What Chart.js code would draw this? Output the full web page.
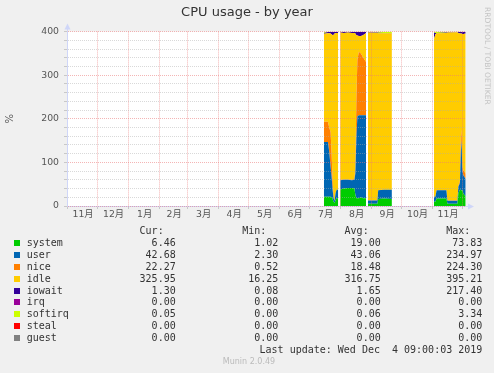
<!DOCTYPE html>
<html>
<head>
<meta charset="utf-8">
<script src="https://cdn.jsdelivr.net/npm/chart.js@4.4.1/dist/chart.umd.min.js"></script>
<style>
  html, body { margin: 0; padding: 0; background: #f0f0f0; }
  #wrap { position: relative; width: 494px; height: 373px; overflow: hidden; }
  #chart { position: absolute; left: 0; top: 0; }
  .t { position: absolute; font-family: "DejaVu Sans Mono", monospace; font-size: 10px;
       line-height: 12px; color: #333; white-space: pre; }
  .sq { position: absolute; width: 6px; height: 6px; }
  #side { position: absolute; left: 483px; top: 7px; writing-mode: vertical-rl;
          font-family: "DejaVu Sans", sans-serif; font-size: 7.6px; color: #c4c4c4; white-space: pre; }
  #ver { position: absolute; left: 0; width: 498px; top: 357px; text-align: center;
         font-family: "DejaVu Sans", sans-serif; font-size: 8px; color: #bbb; }
</style>
</head>
<body>
<div id="wrap">
  <canvas id="chart" width="494" height="373"></canvas>
  <div id="side">RRDTOOL / TOBI OETIKER</div>
  <div id="legend"></div>
  <div id="ver">Munin 2.0.49</div>
</div>
<script>
// days since 1 Nov 2018; null rows are the gaps with no data
const days = [
  256.3, 260.3, 261.6, 263.0, 264.0, 265.0, 266.0, 267.0, 268.0, 269.0, 270.6,
  271.5,
  272.6, 276.3, 280.3, 284.3, 286.8, 287.8, 288.8, 289.8, 291.3, 293.3, 295.3, 298.5,
  299.5,
  300.4, 304.3, 309.8, 310.6, 316.3, 324.3,
  345,
  366.4, 367.8, 369.0, 378.8, 379.8, 389.8, 390.8, 392.3, 393.3, 394.0, 394.7, 395.8, 398.1
];
const system = [
  21, 21, 21, 21, 20, 16, 10, 7, 14, 18, 18,
  null,
  38, 40, 41, 41, 40, 25, 18, 18, 18, 20, 18, 18,
  null,
  5, 5, 5, 16, 17, 16,
  null,
  10, 10, 17, 17, 5, 5, 30, 37, 37, 35, 37, 28, 22
];
const user = [
  126, 126, 104, 69, 47, 21, 8, 5, 16, 19, 19,
  null,
  21, 20, 19, 18, 20, 50, 140, 188, 190, 188, 190, 190,
  null,
  7.5, 7.5, 7.5, 20, 20, 21,
  null,
  11, 11, 19, 19, 7, 7, 15, 15, 90, 115, 45, 42, 40
];
const nice = [
  46, 46, 55, 80, 53, 23, 2, 0.5, 0.5, 0.5, 0.5,
  null,
  1, 1, 1, 1, 2, 15, 90, 130, 146, 142, 134, 122,
  null,
  0.5, 0.5, 0.5, 0.5, 0.5, 0.5,
  null,
  0.5, 0.5, 0.5, 0.5, 0.5, 0.5, 2, 5, 30, 25, 10, 12, 12
];
const idle = [
  202, 203, 216.5, 225.7, 273.8, 331.8, 372.9, 383.4, 366.4, 359.4, 359.4,
  null,
  337.8, 335.8, 336.8, 336.8, 334.8, 305.8, 143.8, 54.8, 35.8, 39.8, 49.8, 66.8,
  null,
  385, 384.5, 384.5, 360, 358.5, 358.5,
  null,
  361.5, 372.5, 359.5, 360.5, 385.5, 386, 349.7, 338.7, 238.7, 220.7, 302.7, 312.7, 321.7
];
const iowait = [
  2, 3, 3, 4, 6, 8, 7, 4, 3, 3, 3,
  null,
  2, 3, 2, 3, 3, 4, 8, 9, 10, 10, 8, 3,
  null,
  1, 1, 1, 1, 1, 1,
  null,
  15, 3, 1, 1, 1, 1, 3, 4, 4, 4, 5, 5, 4
];
const softirq = [
  3, 1, 0.5, 0.3, 0.2, 0.2, 0.1, 0.1, 0.1, 0.1, 0.1,
  null,
  0.2, 0.2, 0.2, 0.2, 0.2, 0.2, 0.2, 0.2, 0.2, 0.2, 0.2, 0.2,
  null,
  1, 1.5, 1.5, 2.5, 3, 3,
  null,
  2, 3, 3, 2, 1, 0.5, 0.3, 0.3, 0.3, 0.3, 0.3, 0.3, 0.3
];

const monthStarts = [0, 30, 61, 92, 120, 151, 181, 212, 242, 273, 304, 334, 365, 395];
const monthLabels = ['11月', '12月', '1月', '2月', '3月', '4月', '5月', '6月', '7月', '8月', '9月', '10月', '11月'];
const yTicks = [0, 100, 200, 300, 400];

// legend table
const names = ['system', 'user', 'nice', 'idle', 'iowait', 'irq', 'softirq', 'steal', 'guest'];
const colors = ['#00cc00', '#0066b3', '#ff8000', '#ffcc00', '#330099', '#990099', '#ccff00', '#ff0000', '#808080'];
const curVals = ['6.46', '42.68', '22.27', '325.95', '1.30', '0.00', '0.05', '0.00', '0.00'];
const minVals = ['1.02', '2.30', '0.52', '16.25', '0.08', '0.00', '0.00', '0.00', '0.00'];
const avgVals = ['19.00', '43.06', '18.48', '316.75', '1.65', '0.00', '0.06', '0.00', '0.00'];
const maxVals = ['73.83', '234.97', '224.30', '395.21', '217.40', '0.00', '3.34', '0.00', '0.00'];

const series = { system, user, nice, idle, iowait, irq: null, softirq, steal: null, guest: null };

const datasets = names.map((name, i) => {
  const vals = series[name] || days.map((d, k) => (system[k] === null ? null : 0));
  return {
    label: name,
    data: days.map((d, k) => ({ x: d, y: vals[k] })),
    backgroundColor: colors[i],
    borderWidth: 0,
    pointRadius: 0,
    tension: 0,
    spanGaps: false,
    fill: i === 0 ? 'origin' : '-1'
  };
});

const axisColor = '#cfd6f8';
const majorGrid = 'rgba(235,120,120,0.55)';
const minorGrid = 'rgba(170,170,170,0.45)';
const tickFont = { family: '"DejaVu Sans", "Noto Sans CJK JP", sans-serif', size: 9.3 };

const decor = {
  id: 'decor',
  beforeDraw(chart) {
    const { ctx, chartArea: a } = chart;
    ctx.save();
    ctx.fillStyle = '#ffffff';
    ctx.fillRect(a.left, a.top, a.right - a.left, a.bottom - a.top);
    ctx.restore();
  },
  afterDraw(chart) {
    const { ctx, chartArea: a } = chart;
    const x0 = Math.round(a.left) + 0.5;
    const y0 = Math.round(a.bottom) + 0.5;
    ctx.save();
    ctx.strokeStyle = axisColor;
    ctx.fillStyle = axisColor;
    ctx.lineWidth = 1;
    ctx.beginPath();
    ctx.moveTo(x0, a.top);
    ctx.lineTo(x0, a.top - 3);
    ctx.moveTo(a.right, y0);
    ctx.lineTo(a.right + 3, y0);
    ctx.stroke();
    ctx.beginPath();
    ctx.moveTo(x0, a.top - 8);
    ctx.lineTo(x0 - 3, a.top - 2);
    ctx.lineTo(x0 + 3, a.top - 2);
    ctx.closePath();
    ctx.fill();
    ctx.beginPath();
    ctx.moveTo(a.right + 8, y0);
    ctx.lineTo(a.right + 2, y0 - 3);
    ctx.lineTo(a.right + 2, y0 + 3);
    ctx.closePath();
    ctx.fill();
    ctx.restore();
  }
};

new Chart(document.getElementById('chart'), {
  type: 'line',
  data: { datasets },
  plugins: [decor],
  options: {
    responsive: false,
    animation: false,
    devicePixelRatio: 1,
    layout: { padding: 0 },
    scales: {
      x: {
        type: 'linear',
        position: 'bottom',
        weight: 0,
        min: -0.6,
        max: 398.4,
        afterBuildTicks: s => { s.ticks = monthStarts.map(v => ({ value: v })); },
        afterFit: s => { s.height = 0; },
        ticks: { display: false },
        grid: { color: majorGrid, z: 1, drawTicks: true, tickLength: 3, tickColor: '#c8c8c8' },
        border: { color: axisColor, dash: [1, 1], z: 1 }
      },
      x2: {
        type: 'linear',
        position: 'bottom',
        weight: 1,
        min: -0.6,
        max: 398.4,
        afterBuildTicks: s => {
          s.ticks = monthLabels.map((l, i) => ({ value: (monthStarts[i] + monthStarts[i + 1]) / 2 + 0.5 }));
        },
        afterFit: s => { s.height = 167; },
        ticks: {
          autoSkip: false, maxRotation: 0, padding: 3, color: '#555', font: tickFont,
          callback: (v, i) => monthLabels[i]
        },
        grid: { display: false, drawTicks: false, tickLength: 0 },
        border: { display: false }
      },
      y: {
        stacked: true,
        min: 0,
        max: 400,
        afterFit: s => { s.width = 67; },
        ticks: {
          stepSize: 20, autoSkip: false, padding: 5, color: '#555', font: tickFont,
          callback: v => (yTicks.includes(v) ? String(v) : '')
        },
        grid: {
          z: 1, drawTicks: true, tickLength: 3, tickColor: '#c8c8c8',
          color: c => (c.tick && c.tick.value % 100 === 0 ? majorGrid : minorGrid)
        },
        border: { color: axisColor, dash: [1, 1], z: 1 },
        title: {
          display: true, text: '%', color: '#555',
          font: { family: '"DejaVu Sans", sans-serif', size: 10 },
          padding: { top: 4, bottom: 0 }
        }
      },
      yr: {
        position: 'right',
        min: 0,
        max: 1,
        afterFit: s => { s.width = 28; },
        ticks: { display: false },
        grid: { display: false },
        border: { display: false }
      }
    },
    plugins: {
      legend: { display: false },
      tooltip: { enabled: false },
      title: {
        display: true,
        text: 'CPU usage - by year',
        color: '#333',
        font: { family: '"DejaVu Sans", sans-serif', size: 13, weight: 'normal' },
        padding: { top: 5, bottom: 11 }
      }
    }
  }
});

// legend table below the graph
const legend = document.getElementById('legend');
function cell(text, top, left, right) {
  const d = document.createElement('div');
  d.className = 't';
  d.textContent = text;
  d.style.top = top + 'px';
  if (left !== null) d.style.left = left + 'px';
  else d.style.right = (494 - right) + 'px';
  legend.appendChild(d);
}
const colRight = [175.7, 278.3, 380.7, 482.3];
const heads = ['Cur:', 'Min:', 'Avg:', 'Max:'];
heads.forEach((h, j) => cell(h + '  ', 224.7, null, colRight[j]));
names.forEach((name, i) => {
  const top = 236.7 + i * 11.95;
  const sq = document.createElement('div');
  sq.className = 'sq';
  sq.style.background = colors[i];
  sq.style.left = '14px';
  sq.style.top = (top + 3) + 'px';
  legend.appendChild(sq);
  cell(name, top, 26.7, null);
  [curVals, minVals, avgVals, maxVals].forEach((col, j) => cell(col[i], top, null, colRight[j]));
});
cell('Last update: Wed Dec  4 09:00:03 2019', 344, null, 482.3);
</script>
</body>
</html>
